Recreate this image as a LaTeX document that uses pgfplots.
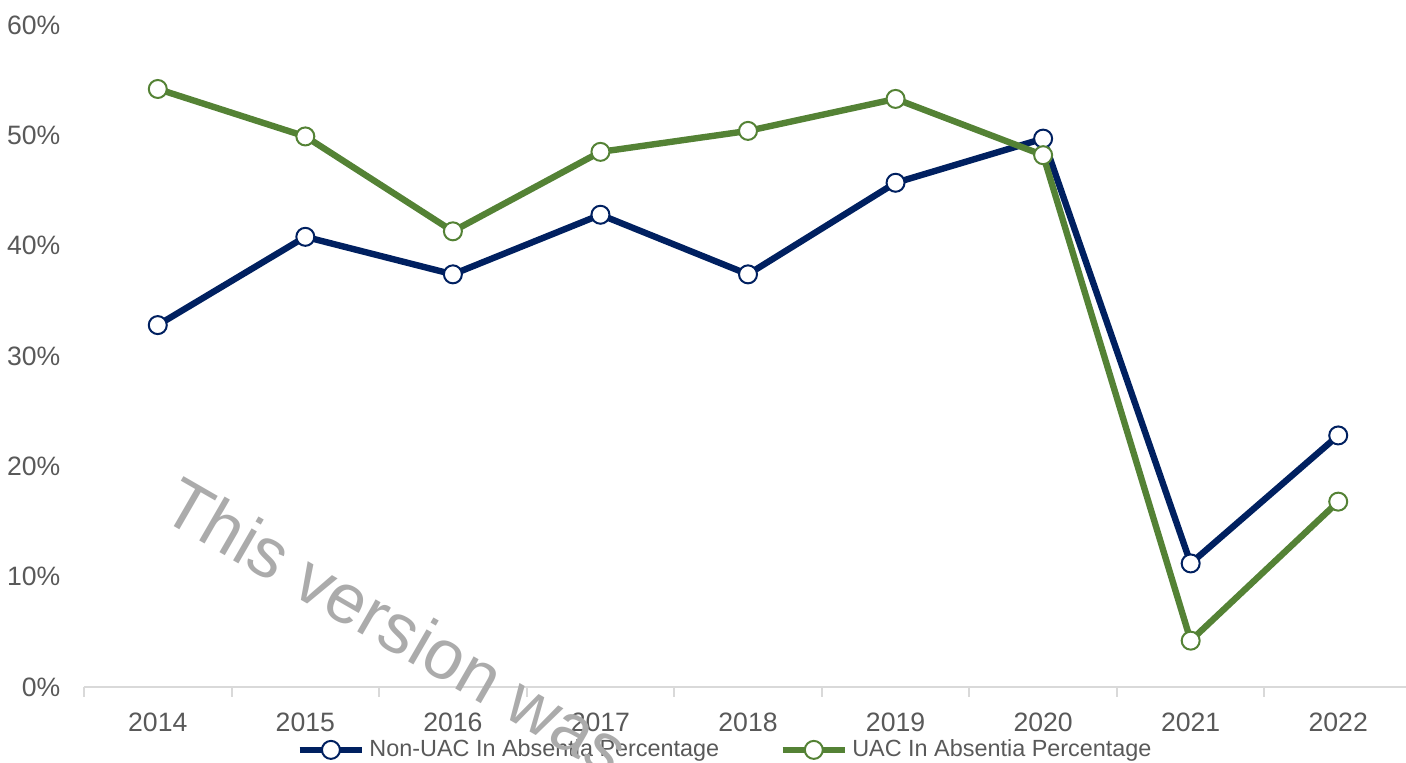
\documentclass[border=0pt]{standalone}
\usepackage{pgfplots}
\pgfplotsset{compat=1.18}
\usepackage{fontspec}
\setmainfont{Liberation Sans}
\definecolor{navyl}{HTML}{002060}
\definecolor{greenl}{HTML}{548235}
\definecolor{txt}{HTML}{595959}
\definecolor{axl}{HTML}{D9D9D9}
\begin{document}
\begin{tikzpicture}
\begin{axis}[
  name=ax,
  scale only axis,
  width=664pt, height=331pt,
  xmin=-0.5, xmax=8.5,
  ymin=0, ymax=60,
  axis x line=bottom, axis y line=left,
  x axis line style={draw=axl, line width=1pt, -},
  y axis line style={draw=none},
  xtick={0,...,8},
  xticklabels={2014,2015,2016,2017,2018,2019,2020,2021,2022},
  major x tick style={draw=none},
  minor xtick={-0.5,0.5,...,8.5},
  minor x tick style={draw=axl, line width=1pt},
  minor tick length=5pt,
  tick align=outside,
  ytick={0,10,...,60},
  yticklabel={\pgfmathprintnumber{\tick}\%},
  major y tick style={draw=none},
  /pgf/number format/assume math mode=true,
  ticklabel style={font=\fontsize{13.3}{15}\selectfont, text=txt},
  xticklabel style={yshift=-5pt},
  yticklabel style={xshift=-4pt},
  clip=false,
  legend columns=2,
  legend style={at={(0.4834,-0.095)}, anchor=center, draw=none, fill=none,
    font=\fontsize{11.7}{14}\selectfont, text=txt,
    /tikz/every even column/.append style={column sep=28pt},
    inner sep=0pt},
  legend image code/.code={\draw[#1, mark repeat=2, mark phase=2] plot coordinates {(0cm,0cm)(0.55cm,0cm)(1.1cm,0cm)};},
]
\addplot[navyl, line width=3.2pt, mark=*, mark size=4.5pt,
  mark options={fill=white, draw=navyl, line width=1pt}]
  coordinates {(0,32.8)(1,40.8)(2,37.4)(3,42.8)(4,37.4)(5,45.7)(6,49.7)(7,11.2)(8,22.8)};
\addlegendentry{Non-UAC In Absentia Percentage}
\addplot[greenl, line width=3.2pt, mark=*, mark size=4.5pt,
  mark options={fill=white, draw=greenl, line width=1pt}]
  coordinates {(0,54.2)(1,49.9)(2,41.3)(3,48.5)(4,50.4)(5,53.3)(6,48.2)(7,4.2)(8,16.8)};
\addlegendentry{UAC In Absentia Percentage}
\end{axis}
\node[rotate=-30, anchor=base west, text=black!33, font=\fontsize{35}{37}\selectfont, inner sep=0pt]
  at ([shift={(37pt,85pt)}]ax.south west) {This version was};
\pgfresetboundingbox
\path ([shift={(-42pt,-38pt)}]ax.south west) rectangle ([shift={(661pt,12.5pt)}]ax.south west |- ax.north east);
\end{tikzpicture}
\end{document}
